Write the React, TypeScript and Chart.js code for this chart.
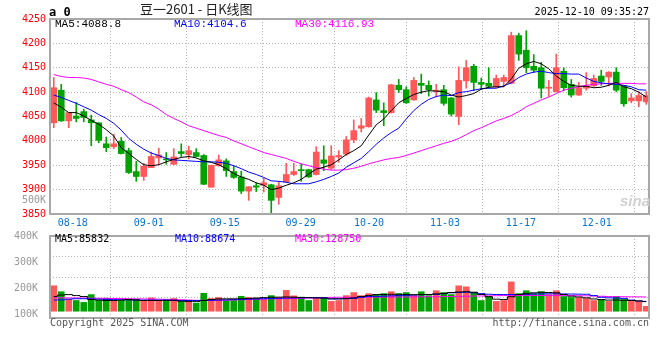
import React, { useEffect, useRef } from 'react';
import { Chart, registerables } from 'chart.js';

Chart.register(...registerables);

// ---------- data ----------
const dates = [
  '08-13','08-14','08-15','08-18','08-19','08-20','08-21','08-22','08-25','08-26','08-27','08-28','08-29',
  '09-01','09-02','09-03','09-04','09-05','09-08','09-09','09-10','09-11','09-12',
  '09-15','09-16','09-17','09-18','09-19','09-22','09-23','09-24','09-25','09-26','09-29','09-30',
  '10-09','10-10','10-13','10-14','10-15','10-16','10-17','10-20','10-21','10-22','10-23','10-24','10-27','10-28','10-29','10-30','10-31',
  '11-03','11-04','11-05','11-06','11-07','11-10','11-11','11-12','11-13','11-14','11-17','11-18','11-19','11-20','11-21','11-24','11-25','11-26','11-27','11-28',
  '12-01','12-02','12-03','12-04','12-05','12-08','12-09','12-10',
];
const tickDates = ['08-18', '09-01', '09-15', '09-29', '10-20', '11-03', '11-17', '12-01'];

const open = [
  4037,4104,4041,4051,4060,4043,4037,3994,3988,3999,
  3980,3937,3927,3945,3965,3963,3952,3978,3972,3976,
  3970,3905,3949,3959,3937,3926,3897,3908,3909,3910,
  3884,3916,3931,3941,3941,3931,3961,3944,3967,3973,
  4002,4026,4029,4084,4062,4058,4114,4105,4084,4118,
  4114,4102,4105,4088,4050,4123,4153,4120,4118,4111,
  4122,4118,4216,4186,4153,4150,4108,4101,4143,4116,
  4094,4108,4113,4133,4131,4141,4113,4082,4082,4080,
];
const high = [
  4130,4116,4058,4079,4065,4053,4037,4008,4014,4007,
  3985,3958,3954,3977,3985,3976,3984,3994,3989,3984,
  3972,3950,3971,3963,3949,3938,3906,3914,3923,3911,
  3917,3954,3954,3952,3942,3988,3990,3990,3980,4009,
  4043,4046,4090,4099,4078,4116,4126,4111,4130,4137,
  4123,4116,4114,4089,4152,4165,4157,4129,4150,4135,
  4135,4223,4221,4226,4177,4161,4124,4178,4150,4126,
  4120,4140,4135,4145,4142,4150,4114,4097,4101,4101,
];
const low = [
  4027,4040,4027,4039,4039,3990,3996,3978,3984,3973,
  3933,3917,3919,3945,3951,3952,3951,3968,3963,3967,
  3910,3905,3948,3927,3923,3892,3878,3896,3895,3852,
  3870,3915,3929,3917,3925,3930,3939,3941,3956,3970,
  3996,4018,4028,4058,4031,4057,4099,4077,4083,4097,
  4092,4090,4073,4051,4033,4108,4103,4105,4108,4110,
  4111,4117,4165,4140,4140,4088,4091,4100,4103,4090,
  4093,4104,4111,4114,4113,4101,4071,4078,4070,4075,
];
const close = [
  4109,4041,4058,4046,4048,4037,4001,3986,3994,3974,
  3935,3927,3948,3968,3971,3961,3967,3974,3980,3968,
  3911,3950,3961,3939,3925,3897,3906,3905,3914,3878,
  3908,3931,3937,3939,3926,3977,3954,3969,3970,4002,
  4021,4031,4088,4063,4058,4115,4105,4078,4124,4114,
  4105,4104,4077,4055,4124,4150,4120,4116,4112,4128,
  4130,4216,4178,4150,4145,4108,4110,4150,4109,4094,
  4109,4113,4128,4122,4141,4104,4076,4088,4093,4093,
];
const ma5 = [
  4078,4069,4058,4058,4051,4042,4034,4023,4010,3986,
  3974,3962,3951,3949,3951,3957,3962,3966,3968,3965,
  3959,3956,3951,3943,3933,3926,3921,3914,3909,3900,
  3903,3909,3914,3921,3932,3942,3946,3951,3961,3972,
  3980,3990,4012,4033,4045,4062,4078,4087,4095,4100,
  4103,4102,4101,4094,4090,4093,4097,4106,4110,4111,
  4111,4127,4149,4158,4163,4158,4148,4133,4122,4114,
  4112,4112,4109,4110,4114,4120,4111,4107,4100,4090,
];
const ma10 = [
  4094,4089,4083,4077,4070,4063,4054,4046,4036,4022,
  4005,3993,3983,3975,3970,3964,3961,3960,3959,3958,
  3957,3957,3956,3954,3949,3943,3936,3931,3925,3918,
  3917,3915,3912,3912,3912,3916,3921,3927,3934,3946,
  3955,3964,3978,3993,4006,4017,4026,4045,4062,4075,
  4085,4091,4094,4093,4099,4101,4104,4107,4108,4108,
  4113,4119,4130,4137,4141,4143,4140,4138,4138,4137,
  4137,4129,4122,4119,4117,4116,4114,4111,4105,4104,
];
const ma30 = [
  4136,4132,4130,4130,4129,4126,4121,4116,4112,4105,
  4099,4090,4080,4074,4065,4054,4046,4039,4031,4026,
  4021,4016,4011,4007,4000,3994,3988,3982,3976,3972,
  3968,3964,3958,3953,3949,3945,3942,3940,3940,3941,
  3944,3948,3953,3957,3961,3964,3966,3970,3975,3980,
  3985,3990,3995,3999,4005,4013,4021,4027,4034,4041,
  4046,4052,4060,4070,4077,4084,4090,4097,4104,4108,
  4111,4114,4116,4117,4118,4118,4118,4118,4117,4117,
];
// volume in thousands of lots
const volumeK = [
  228,175,108,96,79,149,96,117,96,96,
  108,108,96,120,96,96,114,96,96,73,
  161,114,123,96,96,134,123,117,105,140,
  123,187,138,125,96,120,125,88,96,140,
  167,140,158,149,158,175,158,167,140,175,
  140,184,167,149,228,219,170,96,132,88,
  96,263,158,184,158,175,149,184,132,123,
  123,114,96,105,88,132,105,88,88,44,
];
const vma5K = [
  132,145,149,140,132,105,100,96,96,100,
  105,100,96,96,96,98,98,90,88,88,
  96,105,110,111,111,112,115,118,122,125,
  126,128,126,124,122,120,118,111,111,115,
  120,132,140,149,150,152,152,150,148,150,
  150,155,160,168,172,175,170,150,130,108,
  105,130,150,158,165,170,168,165,150,135,
  128,120,110,104,100,100,98,96,92,86,
];
const vma10K = [
  100,102,108,112,112,110,108,106,104,103,
  102,100,100,100,100,99,98,97,96,96,
  97,98,100,102,104,106,108,110,112,114,
  116,118,119,120,121,121,120,111,111,112,
  115,125,132,133,135,138,140,142,145,148,
  150,152,158,165,168,170,165,158,152,150,
  149,150,150,152,154,155,156,156,155,154,
  153,152,140,125,120,118,115,100,92,88,
];
const vma30K = [
  120,120,119,119,118,117,116,115,114,113,
  112,111,110,109,108,106,104,102,100,98,
  97,96,97,99,101,103,105,107,109,111,
  112,113,114,116,118,120,122,124,125,125,
  125,126,126,126,127,127,128,128,129,129,
  130,130,131,132,133,134,136,137,138,139,
  140,140,141,141,141,141,141,140,140,140,
  139,138,136,134,132,131,130,129,129,128,
];
const volTickLabels = [100000, 200000, 300000, 400000];

// ---------- styling ----------
const N = dates.length;
const UP = '#ff5858';
const DOWN = '#00a200';
const GRID = '#b4b4b4';
const MONO = '"DejaVu Sans Mono", monospace';

const candleColors = open.map((o, i) => (close[i] >= o ? UP : DOWN));
const tickIdx = tickDates.map((d) => dates.indexOf(d));
const xTickValues = () => tickIdx.map((i) => ({ value: (i * N) / (N - 1) - 0.5 }));

const framePlugin = {
  id: 'frame',
  afterDraw(chart: any) {
    const { ctx, chartArea: a } = chart;
    ctx.save();
    ctx.strokeStyle = '#a8a8a8';
    ctx.lineWidth = 2;
    ctx.strokeRect(a.left, a.top, a.right - a.left - 1, a.bottom - a.top);
    ctx.restore();
  },
};

const lineDs = (label: string, values: number[], color: string, scale = 1, stepped: any = false) => ({
  type: 'line' as const,
  label,
  data: values.map((v, i) => ({ x: i, y: v * scale })),
  borderColor: color,
  borderWidth: 1,
  pointRadius: 0,
  tension: 0,
  stepped,
  order: 0,
});

const baseX = (showLabels: boolean) => ({
  type: 'linear' as const,
  min: -0.5,
  max: N - 0.5,
  offset: false,
  afterBuildTicks: (s: any) => {
    s.ticks = xTickValues();
  },
  afterFit: (s: any) => {
    s.height = showLabels ? 18 : 0;
  },
  ticks: {
    display: showLabels,
    autoSkip: false,
    maxRotation: 0,
    minRotation: 0,
    padding: 3,
    color: '#0a74d0',
    font: { family: MONO, size: 10 },
    callback: (_v: any, i: number) => tickDates[i],
  },
  grid: { color: GRID, drawTicks: false, lineWidth: 1 },
  border: { display: false, dash: [1, 2] },
});

const Txt = ({ style, children }: any) => (
  <div style={{ position: 'absolute', whiteSpace: 'pre', lineHeight: 1, fontFamily: MONO, fontSize: 10, ...style }}>
    {children}
  </div>
);

export default function App() {
  const mainRef = useRef<HTMLCanvasElement>(null);
  const volRef = useRef<HTMLCanvasElement>(null);

  useEffect(() => {
    const main = new Chart(mainRef.current as HTMLCanvasElement, {
      type: 'bar',
      data: {
        datasets: [
          lineDs('MA5', ma5, '#000000'),
          lineDs('MA10', ma10, '#0000ff'),
          lineDs('MA30', ma30, '#ff00ff'),
          {
            type: 'bar',
            label: 'body',
            data: open.map((o, i) => ({ x: i, y: [o, close[i]] })) as any,
            backgroundColor: candleColors,
            barThickness: 6,
            grouped: false,
            minBarLength: 1,
            order: 1,
          } as any,
          {
            type: 'bar',
            label: 'wick',
            data: low.map((l, i) => ({ x: i, y: [l, high[i]] })) as any,
            backgroundColor: candleColors,
            barThickness: 1,
            grouped: false,
            order: 2,
          } as any,
        ],
      },
      options: {
        animation: false,
        responsive: false,
        maintainAspectRatio: false,
        layout: { padding: { top: 19, right: 10, left: 0, bottom: 0 } },
        plugins: { legend: { display: false }, tooltip: { enabled: false } },
        scales: {
          x: baseX(true) as any,
          y: {
            min: 3850,
            max: 4250,
            afterFit: (s: any) => {
              s.width = 50;
            },
            ticks: {
              stepSize: 50,
              color: '#ff0000',
              font: { family: MONO, size: 10 },
              padding: 4,
              callback: (v: any) => String(v),
            },
            grid: { color: GRID, drawTicks: false },
            border: { display: false, dash: [1, 2] },
          } as any,
        },
      },
      plugins: [framePlugin],
    });

    const vol = new Chart(volRef.current as HTMLCanvasElement, {
      type: 'bar',
      data: {
        datasets: [
          lineDs('VMA5', vma5K, '#000000', 1000, 'middle'),
          lineDs('VMA10', vma10K, '#0000ff', 1000, 'middle'),
          lineDs('VMA30', vma30K, '#ff00ff', 1000, 'middle'),
          {
            type: 'bar',
            label: 'volume',
            data: volumeK.map((v, i) => ({ x: i, y: v * 1000 })) as any,
            backgroundColor: candleColors,
            barThickness: 6,
            grouped: false,
            order: 1,
          } as any,
        ],
      },
      options: {
        animation: false,
        responsive: false,
        maintainAspectRatio: false,
        layout: { padding: { top: 8, right: 10, left: 0, bottom: 18 } },
        plugins: { legend: { display: false }, tooltip: { enabled: false } },
        scales: {
          x: baseX(false) as any,
          y: { display: false, min: -61000, max: 675000 } as any,
          yg: {
            position: 'left',
            min: 0,
            max: 4,
            afterFit: (s: any) => {
              s.width = 0;
            },
            ticks: { display: false, stepSize: 1 },
            grid: { color: GRID, drawTicks: false },
            border: { display: false, dash: [1, 2] },
          } as any,
          yl: {
            position: 'left',
            min: 85000,
            max: 400000,
            afterBuildTicks: (s: any) => {
              s.ticks = volTickLabels.map((v) => ({ value: v }));
            },
            afterFit: (s: any) => {
              s.width = 50;
            },
            ticks: {
              color: '#999999',
              font: { family: MONO, size: 10 },
              padding: 4,
              callback: (v: any) => v / 1000 + 'K',
            },
            grid: { display: false },
            border: { display: false },
          } as any,
        },
      },
      plugins: [framePlugin],
    });

    return () => {
      main.destroy();
      vol.destroy();
    };
  }, []);

  return (
    <div style={{ position: 'fixed', left: 0, top: 0, width: 660, height: 360, background: '#fff', overflow: 'hidden' }}>
      <canvas ref={mainRef} width={660} height={232} style={{ position: 'absolute', left: 0, top: 0 }} />
      <canvas ref={volRef} width={660} height={110} style={{ position: 'absolute', left: 0, top: 226 }} />

      <Txt style={{ left: 49, top: 6, fontSize: 12, fontWeight: 'bold', color: '#000' }}>a 0</Txt>
      <Txt style={{ left: 140, top: 2, fontSize: 13, fontFamily: '"Noto Sans CJK SC", sans-serif', color: '#222' }}>
        豆一2601 - 日K线图
      </Txt>
      <Txt style={{ right: 11, top: 6.5, color: '#000' }}>2025-12-10 09:35:27</Txt>

      <Txt style={{ left: 55, top: 19, fontSize: 11, fontFamily: '"Liberation Mono", monospace', color: '#000' }}>MA5:4088.8</Txt>
      <Txt style={{ left: 174, top: 19, fontSize: 11, fontFamily: '"Liberation Mono", monospace', color: '#0000ff' }}>MA10:4104.6</Txt>
      <Txt style={{ left: 295, top: 19, fontSize: 11, fontFamily: '"Liberation Mono", monospace', color: '#ff00ff' }}>MA30:4116.93</Txt>

      <Txt style={{ right: 614, top: 195, color: '#999' }}>500K</Txt>
      <Txt style={{ left: 620, top: 193, fontSize: 15, fontFamily: '"Liberation Sans", sans-serif', fontStyle: 'italic', fontWeight: 'bold', color: '#d2cfcf' }}>sina</Txt>

      <Txt style={{ left: 55, top: 233.5, color: '#000' }}>MA5:85832</Txt>
      <Txt style={{ left: 175, top: 233.5, color: '#0000ff' }}>MA10:88674</Txt>
      <Txt style={{ left: 295, top: 233.5, color: '#ff00ff' }}>MA30:128750</Txt>

      <Txt style={{ left: 50, top: 318, color: '#555' }}>Copyright 2025 SINA.COM</Txt>
      <Txt style={{ right: 11, top: 318, color: '#555' }}>http://finance.sina.com.cn</Txt>
    </div>
  );
}
